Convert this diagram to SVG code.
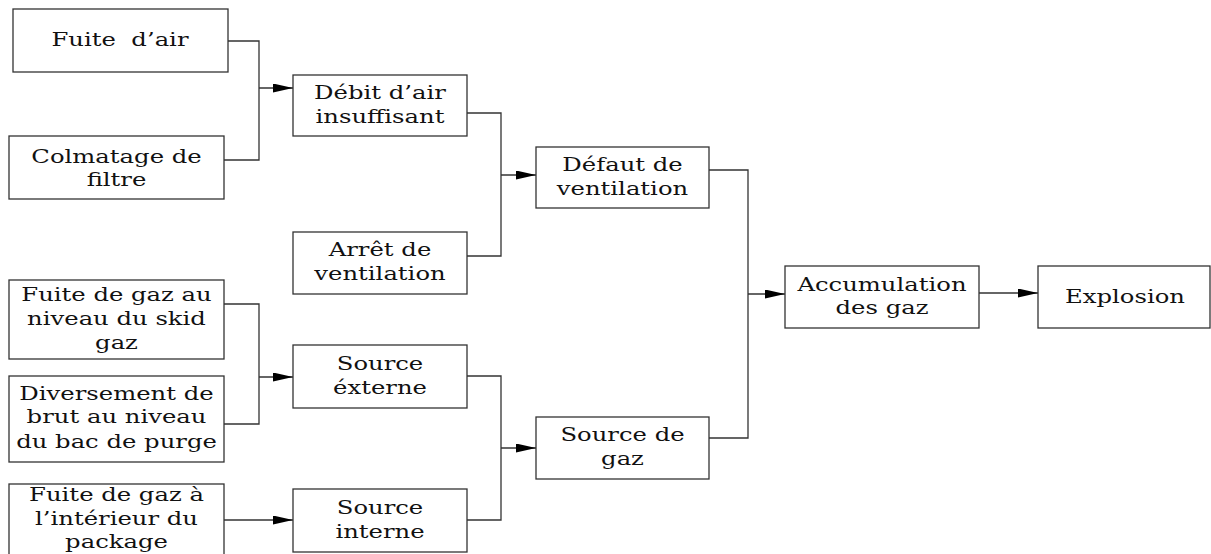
<svg xmlns="http://www.w3.org/2000/svg" width="1211" height="554" viewBox="0 0 1211 554">
<style>
.box{fill:#fff;stroke:#333;stroke-width:1.3}
.t{font-family:"DejaVu Serif","Liberation Serif",serif;font-size:18px;fill:#111;text-anchor:middle}
.c{fill:none;stroke:#333;stroke-width:1.3}
</style>
<defs>
<marker id="ah" markerUnits="userSpaceOnUse" markerWidth="20" markerHeight="10" refX="20" refY="4.5" orient="auto">
<path d="M0,0 L20,4.5 L0,9 z" fill="#000"/>
</marker>
</defs>
<rect width="1211" height="554" fill="#fff"/>
<g id="connectors">
<path class="c" d="M228,41 H259 V160 H224"/>
<path class="c" d="M259,88 H293" marker-end="url(#ah)"/>
<path class="c" d="M467,113 H501 V256 H467"/>
<path class="c" d="M501,175 H536" marker-end="url(#ah)"/>
<path class="c" d="M224,304 H259 V424 H224"/>
<path class="c" d="M259,377 H293" marker-end="url(#ah)"/>
<path class="c" d="M224,520 H293" marker-end="url(#ah)"/>
<path class="c" d="M467,376 H501 V520 H467"/>
<path class="c" d="M501,448 H536" marker-end="url(#ah)"/>
<path class="c" d="M709,170 H748 V438 H709"/>
<path class="c" d="M748,294 H785" marker-end="url(#ah)"/>
<path class="c" d="M979,293 H1038" marker-end="url(#ah)"/>
</g>
<g id="n-fuite-air">
<rect class="box" x="13" y="9" width="215" height="63"/>
<text class="t" xml:space="preserve" transform="translate(120,0) scale(1.35,1)"><tspan x="0" y="46.5">Fuite  d’air</tspan></text>
</g>
<g id="n-colmatage">
<rect class="box" x="9" y="136" width="215" height="63"/>
<text class="t" transform="translate(116.5,0) scale(1.35,1)"><tspan x="0" y="163">Colmatage de</tspan><tspan x="0" y="186">filtre</tspan></text>
</g>
<g id="n-debit">
<rect class="box" x="293" y="75" width="174" height="61"/>
<text class="t" transform="translate(380,0) scale(1.35,1)"><tspan x="0" y="99">Débit d’air</tspan><tspan x="0" y="123">insuffisant</tspan></text>
</g>
<g id="n-arret">
<rect class="box" x="293" y="232" width="174" height="62"/>
<text class="t" transform="translate(380,0) scale(1.35,1)"><tspan x="0" y="256.5">Arrêt de</tspan><tspan x="0" y="280.5">ventilation</tspan></text>
</g>
<g id="n-defaut">
<rect class="box" x="536" y="147" width="173" height="61"/>
<text class="t" transform="translate(622.5,0) scale(1.35,1)"><tspan x="0" y="171">Défaut de</tspan><tspan x="0" y="195">ventilation</tspan></text>
</g>
<g id="n-fuite-gaz-skid">
<rect class="box" x="9" y="280" width="215" height="79"/>
<text class="t" transform="translate(116.5,0) scale(1.35,1)"><tspan x="0" y="301.5">Fuite de gaz au</tspan><tspan x="0" y="325">niveau du skid</tspan><tspan x="0" y="349">gaz</tspan></text>
</g>
<g id="n-diversement">
<rect class="box" x="9" y="376" width="215" height="86"/>
<text class="t" transform="translate(116.5,0) scale(1.35,1)"><tspan x="0" y="400">Diversement de</tspan><tspan x="0" y="423.5">brut au niveau</tspan><tspan x="0" y="448">du bac de purge</tspan></text>
</g>
<g id="n-fuite-interieur">
<rect class="box" x="9" y="484" width="215" height="80"/>
<text class="t" transform="translate(116.5,0) scale(1.35,1)"><tspan x="0" y="501.5">Fuite de gaz à</tspan><tspan x="0" y="525">l’intérieur du</tspan><tspan x="0" y="548">package</tspan></text>
</g>
<g id="n-source-externe">
<rect class="box" x="293" y="345" width="174" height="63"/>
<text class="t" transform="translate(380,0) scale(1.35,1)"><tspan x="0" y="370">Source</tspan><tspan x="0" y="394">éxterne</tspan></text>
</g>
<g id="n-source-interne">
<rect class="box" x="293" y="489" width="174" height="63"/>
<text class="t" transform="translate(380,0) scale(1.35,1)"><tspan x="0" y="514">Source</tspan><tspan x="0" y="538">interne</tspan></text>
</g>
<g id="n-source-gaz">
<rect class="box" x="536" y="417" width="173" height="62"/>
<text class="t" transform="translate(622.5,0) scale(1.35,1)"><tspan x="0" y="441.5">Source de</tspan><tspan x="0" y="465.5">gaz</tspan></text>
</g>
<g id="n-accumulation">
<rect class="box" x="785" y="266" width="194" height="62"/>
<text class="t" transform="translate(882,0) scale(1.35,1)"><tspan x="0" y="291">Accumulation</tspan><tspan x="0" y="314">des gaz</tspan></text>
</g>
<g id="n-explosion">
<rect class="box" x="1038" y="266" width="172" height="62"/>
<text class="t" transform="translate(1125,0) scale(1.35,1)"><tspan x="0" y="303">Explosion</tspan></text>
</g>
</svg>
